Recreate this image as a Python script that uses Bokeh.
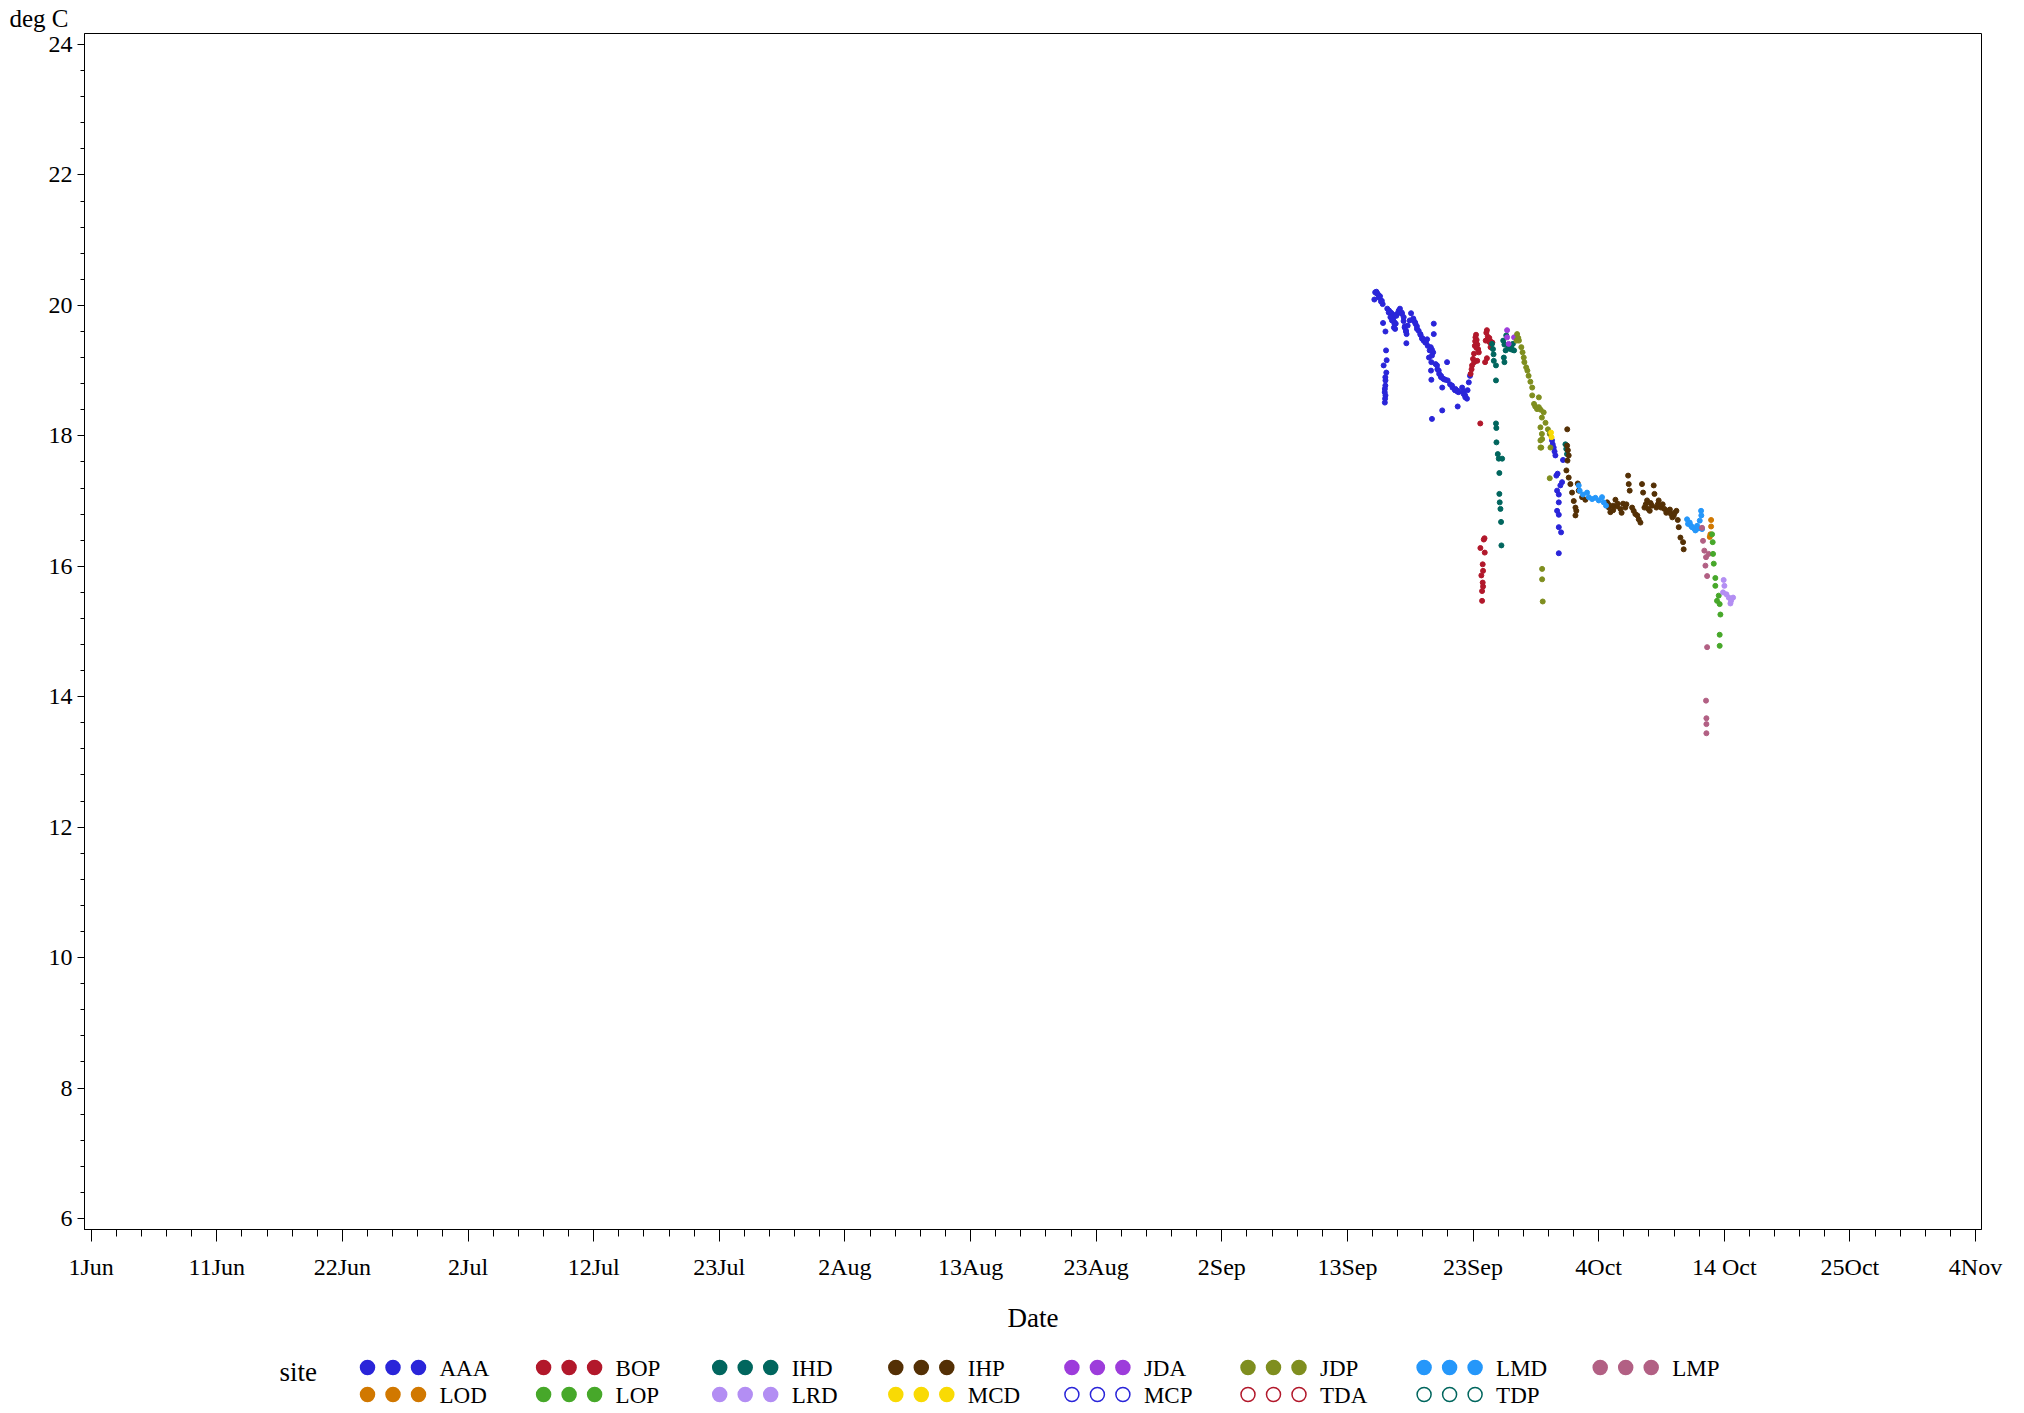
import numpy as np
import pandas as pd
from bokeh.plotting import figure
from bokeh.layouts import column
from bokeh.models import FixedTicker, Range1d, ColumnDataSource
from bokeh.embed import file_html
from bokeh.resources import INLINE
from bokeh.core.properties import value

SERIF = "Liberation Serif"
ORIGIN = pd.Timestamp("2023-06-01")
AXIS_END = pd.Timestamp("2023-11-04")

# ---------------- data (day = days after 1 Jun, temp in deg C) ----------------
sites = ["AAA", "BOP", "IHD", "IHP", "JDA", "JDP", "LMD", "LMP",
         "LOD", "LOP", "LRD", "MCD", "MCP", "TDA", "TDP"]
site_colors = ["#2A25D9", "#B2182B", "#01665E", "#543005", "#9D3CDB", "#7F8E1F",
               "#2597FA", "#B26084", "#D17800", "#47A82A", "#B38EF3", "#F9DA04",
               "#2A25D9", "#B2182B", "#01665E"]
site_filled = [True] * 12 + [False] * 3

aaa_day = [106.23, 106.30, 106.40, 106.50, 106.60, 106.70, 106.85, 106.92, 106.95, 107.15,
           107.20, 107.25, 107.00, 107.22, 107.15, 107.10, 107.15, 107.10, 107.30, 107.45,
           107.60, 107.70, 107.80, 107.90, 108.00, 107.95, 108.10, 108.25, 108.35, 108.50,
           108.65, 108.75, 108.85, 108.90, 108.88, 109.27, 109.45, 109.60, 109.75, 109.90,
           110.05, 110.20, 110.35, 110.50, 110.60, 110.90, 111.00, 111.10, 111.15, 111.15,
           110.75, 110.95, 110.92, 110.95, 111.30, 111.45, 111.60, 111.75, 111.90, 112.10,
           112.30, 112.25, 111.85, 112.50, 112.70, 112.90, 113.10, 113.20, 113.13, 111.85,
           111.00, 113.50, 113.60, 113.75, 113.90, 113.95, 114.05, 114.15,
           106.45, 106.59, 106.78, 107.42, 107.56, 107.69, 107.89, 107.85, 108.05, 108.25,
           108.52, 108.66, 108.74, 108.85, 108.99, 109.16, 109.49, 109.63, 109.76, 110.04,
           110.18, 110.31, 110.45, 110.65, 110.81, 111.00, 111.42, 111.56, 111.75, 111.97,
           112.66, 112.94, 113.13, 113.63, 113.76, 107.14, 107.14, 107.09, 107.12,
           120.94, 121.00, 121.08, 121.15, 121.22, 121.85, 121.30, 121.40, 121.77, 121.63,
           121.36, 121.50, 121.50, 121.36, 121.50, 121.50, 121.69, 121.50]
aaa_temp = [20.09, 20.20, 20.21, 20.18, 20.15, 20.14, 20.07, 20.02, 19.73, 19.60,
            19.31, 19.16, 19.08, 18.97, 18.85, 18.72, 18.62, 18.51, 19.95, 19.92,
            19.89, 19.87, 19.80, 19.74, 19.72, 19.64, 19.87, 19.92, 19.95, 19.89,
            19.76, 19.68, 19.60, 19.56, 19.42, 19.88, 19.80, 19.74, 19.68, 19.61,
            19.55, 19.50, 19.46, 19.43, 19.48, 19.36, 19.32, 19.28, 19.72, 19.56,
            19.20, 19.13, 19.00, 18.86, 19.10, 19.02, 18.95, 18.90, 18.88, 18.86,
            18.85, 19.13, 18.74, 18.79, 18.74, 18.70, 18.68, 18.67, 18.45, 18.39,
            18.26, 18.74, 18.68, 18.62, 18.57, 18.70, 18.82, 18.92,
            20.18, 20.12, 20.06, 19.89, 19.82, 19.77, 19.72, 19.66, 19.84, 19.89,
            19.87, 19.82, 19.66, 19.61, 19.69, 19.77, 19.77, 19.72, 19.64, 19.56,
            19.49, 19.46, 19.43, 19.38, 19.31, 19.23, 19.08, 19.00, 18.92, 18.87,
            18.77, 18.72, 18.69, 18.64, 18.59, 18.90, 18.77, 18.67, 18.57,
            17.93, 17.87, 17.82, 17.76, 17.70, 17.63, 17.39, 17.42, 17.29, 17.24,
            17.16, 17.10, 16.98, 16.85, 16.79, 16.60, 16.52, 16.20]

bop_day = [114.20, 114.28, 114.32, 114.40, 114.48, 114.55, 114.60, 114.65, 114.70, 114.75,
           114.82, 114.88, 114.75, 114.50, 115.45, 115.50, 115.55, 115.62, 115.70, 115.80,
           115.90, 116.00, 115.85, 115.55, 115.40, 115.00, 114.58, 114.68, 115.75,
           115.29, 115.35, 115.01, 115.37, 115.20, 115.23, 115.09, 115.23, 115.20, 115.15,
           115.15]
bop_temp = [18.95, 19.02, 19.08, 19.18, 19.26, 19.38, 19.51, 19.55, 19.47, 19.40,
            19.33, 19.28, 19.15, 19.13, 19.46, 19.58, 19.62, 19.52, 19.45, 19.43,
            19.44, 19.43, 19.36, 19.19, 19.13, 18.19, 19.45, 19.35, 19.50,
            16.41, 16.43, 16.28, 16.21, 16.03, 15.93, 15.86, 15.69, 15.75, 15.62,
            15.47]

ihd_day = [115.97, 116.05, 116.10, 116.12, 116.30, 116.30, 116.30, 116.33, 116.34, 116.45,
           116.53, 116.81, 116.58, 116.58, 116.61, 116.67, 116.72, 116.75, 116.90, 117.00,
           117.10, 116.95, 117.00, 117.15, 117.40, 117.50, 117.65, 117.80, 117.70, 117.30,
           117.55, 122.05, 122.12, 122.18]
ihd_temp = [19.41, 19.33, 19.25, 19.15, 19.08, 18.85, 18.19, 18.12, 17.90, 17.72,
            17.65, 17.65, 17.43, 17.11, 16.98, 16.88, 16.68, 16.32, 19.46, 19.40,
            19.31, 19.20, 19.13, 19.54, 19.36, 19.33, 19.32, 19.31, 19.41, 19.34,
            19.38, 17.87, 17.80, 17.72]

ihp_day = [122.20, 122.19, 122.25, 122.32, 122.22, 122.13, 122.32, 122.46, 122.60, 122.74,
           122.88, 122.88, 122.95, 123.07, 123.15, 123.43, 123.70,
           125.50, 125.60, 125.64, 125.77, 125.99, 126.00, 126.19, 126.30, 126.38, 126.60,
           126.70, 126.82, 127.01, 127.10, 127.24, 127.29, 127.37, 127.57, 127.70, 127.84,
           128.00, 128.12, 128.26, 128.39, 128.48, 128.59, 128.70, 128.81, 128.90, 129.03,
           129.10, 129.22, 129.36, 129.42, 129.58, 129.70, 129.77, 129.97, 130.10, 130.24,
           130.40, 130.52, 130.70, 130.79, 130.90, 131.02, 131.10, 131.24, 131.35, 131.43,
           131.57, 131.79, 131.84]
ihp_temp = [18.10, 17.85, 17.78, 17.70, 17.62, 17.47, 17.36, 17.26, 17.13, 17.00,
            16.90, 16.78, 16.85, 17.27, 17.16, 17.06, 17.02,
            16.98, 16.95, 16.90, 16.83, 16.93, 16.86, 17.02, 16.92, 16.96, 16.88,
            16.82, 16.96, 16.90, 16.95, 17.39, 17.26, 17.16, 16.90, 16.85, 16.80,
            16.78, 16.72, 16.67, 17.26, 17.13, 16.90, 16.95, 17.01, 16.88, 16.85,
            16.97, 16.93, 17.24, 17.11, 16.90, 16.95, 17.01, 16.90, 16.95, 16.88,
            16.82, 16.85, 16.87, 16.80, 16.75, 16.78, 16.82, 16.85, 16.71, 16.60,
            16.44, 16.37, 16.26]

jda_day = [117.22, 117.22, 117.35, 117.80]
jda_temp = [19.62, 19.51, 19.41, 19.51]

jdp_day = [118.05, 118.15, 118.20, 118.00, 118.40, 118.50, 118.60, 118.65, 118.80, 118.90,
           119.00, 119.15, 119.30, 119.30, 119.85, 119.45, 119.55, 119.70, 119.85, 120.00,
           120.25, 120.10, 120.40, 119.98, 120.10, 120.12, 120.05, 120.60, 120.75, 120.75,
           119.98, 119.98, 120.81, 120.12, 120.12, 120.17]
jdp_temp = [19.56, 19.50, 19.46, 19.46, 19.36, 19.28, 19.20, 19.13, 19.05, 19.00,
            18.92, 18.83, 18.74, 18.62, 18.59, 18.49, 18.45, 18.41, 18.44, 18.40,
            18.36, 18.28, 18.20, 18.13, 18.03, 17.95, 17.82, 18.10, 18.03, 17.35,
            17.93, 17.82, 17.82, 15.96, 15.80, 15.46]

lmd_day = [123.15, 123.23, 123.50, 123.84, 123.98, 124.26, 124.53, 124.81, 125.08, 125.22,
           125.41, 132.12, 132.20, 132.34, 132.45, 132.53, 132.70, 132.81, 132.95, 133.05,
           133.17, 133.28, 133.30, 133.36]
lmd_temp = [17.24, 17.16, 17.10, 17.13, 17.06, 17.03, 17.05, 17.01, 17.06, 16.98,
            16.93, 16.72, 16.65, 16.67, 16.62, 16.60, 16.58, 16.55, 16.62, 16.58,
            16.70, 16.85, 16.78, 16.57]

lmp_day = [133.36, 133.44, 133.55, 133.69, 133.64, 133.91, 133.78, 133.78, 133.69, 133.72,
           133.72, 133.72]
lmp_temp = [16.59, 16.39, 16.24, 16.14, 16.01, 16.19, 15.85, 14.76, 13.94, 13.67,
            13.58, 13.44]

lod_day = [134.11, 134.11, 134.05, 134.00]
lod_temp = [16.71, 16.61, 16.49, 16.45]

lop_day = [134.19, 134.24, 134.27, 134.33, 134.46, 134.46, 134.74, 134.60, 134.82, 134.88,
           134.82, 134.82]
lop_temp = [16.49, 16.37, 16.19, 16.04, 15.82, 15.70, 15.55, 15.47, 15.42, 15.26,
            14.95, 14.78]

lrd_day = [135.15, 135.21, 135.10, 135.38, 135.57, 135.76, 135.93, 135.71]
lrd_temp = [15.79, 15.70, 15.60, 15.57, 15.52, 15.47, 15.52, 15.43]

mcd_day = [120.86, 120.90]
mcd_temp = [18.05, 17.98]

site_data = {
    "AAA": (aaa_day, aaa_temp), "BOP": (bop_day, bop_temp), "IHD": (ihd_day, ihd_temp),
    "IHP": (ihp_day, ihp_temp), "JDA": (jda_day, jda_temp), "JDP": (jdp_day, jdp_temp),
    "LMD": (lmd_day, lmd_temp), "LMP": (lmp_day, lmp_temp), "LOD": (lod_day, lod_temp),
    "LOP": (lop_day, lop_temp), "LRD": (lrd_day, lrd_temp), "MCD": (mcd_day, mcd_temp),
    "MCP": ([], []), "TDA": ([], []), "TDP": ([], []),
}

x_tick_labels = ["1Jun", "11Jun", "22Jun", "2Jul", "12Jul", "23Jul", "2Aug", "13Aug",
                 "23Aug", "2Sep", "13Sep", "23Sep", "4Oct", "14 Oct", "25Oct", "4Nov"]
y_ticks = [6, 8, 10, 12, 14, 16, 18, 20, 22, 24]


def to_ms(ts):
    return int(ts.value // 1_000_000)


def to_dt(days):
    return ORIGIN + pd.to_timedelta(np.asarray(days, dtype=float), unit="D")


# ---------------- layout constants (page pixels) ----------------
FRAME_L, FRAME_R, FRAME_T, FRAME_B = 84, 1981, 33, 1229
BORDER_R, BORDER_B = 35, 120
MAIN_W = FRAME_R + BORDER_R
MAIN_H = FRAME_B + BORDER_B
LEG_H = 62

# ---------------- main figure ----------------
x_start = ORIGIN - pd.Timedelta(hours=13.3)
x_end = AXIS_END + pd.Timedelta(hours=11.9)

p = figure(width=MAIN_W, height=MAIN_H, x_axis_type="datetime",
           x_range=Range1d(x_start, x_end), y_range=Range1d(5.831, 24.169),
           output_backend="svg", toolbar_location=None,
           min_border_left=FRAME_L, min_border_right=BORDER_R, min_border_top=FRAME_T,
           min_border_bottom=BORDER_B, title="deg C")

p.title.text_font = SERIF
p.title.text_font_size = "25px"
p.title.text_font_style = "normal"
p.title.text_color = "black"
p.title.align = "left"
p.title.offset = -75
p.title.standoff = 3

for name, color, filled in zip(sites, site_colors, site_filled):
    d, t = site_data[name]
    if len(d) == 0:
        continue
    src = ColumnDataSource(dict(x=to_dt(d), y=t))
    p.scatter("x", "y", source=src, marker="circle", size=5,
              fill_color=color if filled else None, line_color=color, line_width=1)

start_ms, end_ms = to_ms(ORIGIN), to_ms(AXIS_END)
n_int = len(x_tick_labels) - 1
step = (end_ms - start_ms) // n_int
major_ms = [start_ms + i * step for i in range(n_int + 1)]
minor_ms = [start_ms + i * (step // 5) for i in range(n_int * 5 + 1)]
p.xaxis.ticker = FixedTicker(ticks=major_ms, minor_ticks=minor_ms)
p.xaxis.major_label_overrides = {m: lab for m, lab in zip(major_ms, x_tick_labels)}

y_minor = [round(y_ticks[0] + 0.4 * i, 2) for i in range(int((y_ticks[-1] - y_ticks[0]) / 0.4) + 1)]
p.yaxis.ticker = FixedTicker(ticks=y_ticks, minor_ticks=y_minor)

p.xaxis.axis_label = "Date"
for ax in (p.xaxis, p.yaxis):
    ax.axis_line_color = "black"
    ax.major_tick_line_color = "black"
    ax.minor_tick_line_color = "black"
    ax.major_tick_in = 0
    ax.minor_tick_in = 0
    ax.major_label_text_font = SERIF
    ax.major_label_text_font_size = "24px"
    ax.major_label_text_color = "black"
    ax.axis_label_text_font = SERIF
    ax.axis_label_text_font_size = "27px"
    ax.axis_label_text_font_style = "normal"
    ax.axis_label_text_color = "black"

p.xaxis.major_tick_out = 12
p.xaxis.minor_tick_out = 7
p.xaxis.major_label_standoff = 12
p.xaxis.axis_label_standoff = 20
p.yaxis.major_tick_out = 7
p.yaxis.minor_tick_out = 4
p.yaxis.major_label_standoff = 5

p.xgrid.visible = False
p.ygrid.visible = False
p.outline_line_color = "black"
p.outline_line_alpha = 1.0
p.background_fill_color = "white"
p.border_fill_color = "white"

# ---------------- legend strip (ranges expressed in page pixels) ----------------
q = figure(width=MAIN_W, height=LEG_H,
           x_range=Range1d(FRAME_L, FRAME_R), y_range=Range1d(MAIN_H + LEG_H, MAIN_H),
           output_backend="svg", toolbar_location=None,
           min_border_left=FRAME_L, min_border_right=BORDER_R, min_border_top=0,
           min_border_bottom=0, x_axis_location=None, y_axis_location=None)
q.xgrid.visible = False
q.ygrid.visible = False
q.outline_line_color = None

col0, col_step, mk_step, lab_gap = 367, 176.1, 25.5, 72
row0, row_step, ncol = 1367, 27, 8
mx, my, mfill, mline, malpha = [], [], [], [], []
lx, ly, ltext = [], [], []
for i, (name, color, filled) in enumerate(zip(sites, site_colors, site_filled)):
    c, r = i % ncol, i // ncol
    x0 = col0 + c * col_step
    y0 = row0 + r * row_step
    for k in range(3):
        mx.append(x0 + k * mk_step)
        my.append(y0)
        mfill.append(color)
        mline.append(color)
        malpha.append(1.0 if filled else 0.0)
    lx.append(x0 + lab_gap)
    ly.append(y0 + 1)
    ltext.append(name)

q.scatter(x="x", y="y", source=ColumnDataSource(dict(x=mx, y=my, f=mfill, l=mline, a=malpha)),
          marker="circle", size=14, fill_color="f", fill_alpha="a", line_color="l", line_width=1.5)
q.text(x="x", y="y", text="t", source=ColumnDataSource(dict(x=lx, y=ly, t=ltext)),
       text_font=value(SERIF), text_font_size=value("23px"), text_baseline="middle",
       text_align="left", text_color="black")
q.text(x=[279], y=[1371], text=["site"], text_font=value(SERIF), text_font_size=value("27px"),
       text_baseline="middle", text_align="left", text_color="black")

layout = column(p, q, spacing=0)
open("out.html", "w").write(file_html(layout, INLINE))
